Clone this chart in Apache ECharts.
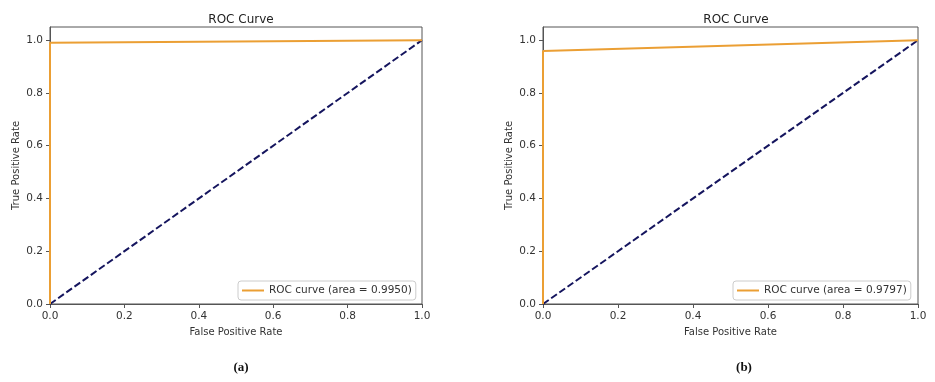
<!DOCTYPE html>
<html>
<head>
<meta charset="utf-8">
<title>ROC Curve</title>
<script src="https://cdn.jsdelivr.net/npm/echarts@6/dist/echarts.min.js"></script>
<style>
    html, body { margin: 0; padding: 0; background: #fff; }
    #roc_chart { width: 935px; height: 382px; }
</style>
</head>
<body>
<div id="roc_chart"></div>
<script>
// ROC points (false positive rate, true positive rate)
var rocA = [ [ 0, 0 ], [ 0, 0.99 ], [ 1, 1 ] ];
var rocB = [ [ 0, 0 ], [ 0, 0.9594 ], [ 1, 1 ] ];
var chanceLine = [ [ 0, 0 ], [ 1, 1 ] ];
var legendA = 'ROC curve (area = 0.9950)';
var legendB = 'ROC curve (area = 0.9797)';
var tickValues = [ 0, 0.2, 0.4, 0.6, 0.8, 1.0 ];
var panelLabels = [ '(a)', '(b)' ];

var font = 'DejaVu Sans';
var orange = '#eb9f34';
var navy = '#15155e';

function makeX(idx) {
    return {
        type : 'value',
        gridIndex : idx,
        min : 0,
        max : 1,
        interval : 0.2,
        name : 'False Positive Rate',
        nameLocation : 'middle',
        nameGap : 23,
        nameTextStyle : { fontFamily : font, fontSize : 10, color : '#333' },
        axisLine : { show : true, lineStyle : { color : '#555' } },
        axisTick : { show : true, length : 4, lineStyle : { color : '#555' } },
        axisLabel : {
            fontFamily : font, fontSize : 10.5, color : '#333', margin : 7,
            formatter : function(v) { return v.toFixed(1); }
        },
        splitLine : { show : false }
    };
}

function makeY(idx) {
    return {
        type : 'value',
        gridIndex : idx,
        min : 0,
        max : 1.05,
        name : 'True Positive Rate',
        nameLocation : 'middle',
        nameGap : 29,
        nameTextStyle : { fontFamily : font, fontSize : 10, color : '#333' },
        axisLine : { show : true, lineStyle : { color : '#555' } },
        axisTick : { show : true, length : 4, customValues : tickValues, lineStyle : { color : '#555' } },
        axisLabel : {
            fontFamily : font, fontSize : 10.5, color : '#333', margin : 7,
            customValues : tickValues,
            formatter : function(v) { return v.toFixed(1); }
        },
        splitLine : { show : false }
    };
}

var chart = echarts.init(document.getElementById('roc_chart'));
var option = {
    animation : false,
    backgroundColor : '#fff',
    title : [ {
        text : 'ROC Curve', left : 236, top : 9, textAlign : 'center',
        textStyle : { fontFamily : font, fontSize : 12, fontWeight : 'normal', color : '#222' }
    }, {
        text : 'ROC Curve', left : 731, top : 9, textAlign : 'center',
        textStyle : { fontFamily : font, fontSize : 12, fontWeight : 'normal', color : '#222' }
    }, {
        text : panelLabels[0], left : 236, top : 356, textAlign : 'center',
        textStyle : { fontFamily : 'Liberation Serif', fontSize : 13, fontWeight : 'bold', color : '#111' }
    }, {
        text : panelLabels[1], left : 739, top : 356, textAlign : 'center',
        textStyle : { fontFamily : 'Liberation Serif', fontSize : 13, fontWeight : 'bold', color : '#111' }
    } ],
    grid : [ {
        left : 50, top : 27, width : 372, height : 277,
        show : true, borderColor : '#555', borderWidth : 1, backgroundColor : 'transparent'
    }, {
        left : 543, top : 27, width : 375, height : 277,
        show : true, borderColor : '#555', borderWidth : 1, backgroundColor : 'transparent'
    } ],
    xAxis : [ makeX(0), makeX(1) ],
    yAxis : [ makeY(0), makeY(1) ],
    legend : [ {
        data : [ legendA ],
        left : 238, top : 281,
        orient : 'vertical',
        itemWidth : 22, itemHeight : 2, itemGap : 0,
        padding : [ 4, 4, 4, 4 ],
        borderColor : '#ccc', borderWidth : 1, borderRadius : 3,
        icon : 'rect',
        textStyle : { fontFamily : font, fontSize : 10.5, color : '#333' }
    }, {
        data : [ legendB ],
        left : 733, top : 281,
        orient : 'vertical',
        itemWidth : 22, itemHeight : 2, itemGap : 0,
        padding : [ 4, 4, 4, 4 ],
        borderColor : '#ccc', borderWidth : 1, borderRadius : 3,
        icon : 'rect',
        textStyle : { fontFamily : font, fontSize : 10.5, color : '#333' }
    } ],
    series : [ {
        name : legendA, type : 'line', xAxisIndex : 0, yAxisIndex : 0,
        data : rocA, showSymbol : false, symbol : 'none', color : orange,
        lineStyle : { width : 2, color : orange }, z : 3
    }, {
        name : 'chanceA', type : 'line', xAxisIndex : 0, yAxisIndex : 0,
        data : chanceLine, symbol : 'none', color : navy,
        lineStyle : { width : 2, color : navy, type : [ 7, 3 ] }, z : 2
    }, {
        name : legendB, type : 'line', xAxisIndex : 1, yAxisIndex : 1,
        data : rocB, showSymbol : false, symbol : 'none', color : orange,
        lineStyle : { width : 2, color : orange }, z : 3
    }, {
        name : 'chanceB', type : 'line', xAxisIndex : 1, yAxisIndex : 1,
        data : chanceLine, symbol : 'none', color : navy,
        lineStyle : { width : 2, color : navy, type : [ 7, 3 ] }, z : 2
    } ]
};
chart.setOption(option);
</script>
</body>
</html>
